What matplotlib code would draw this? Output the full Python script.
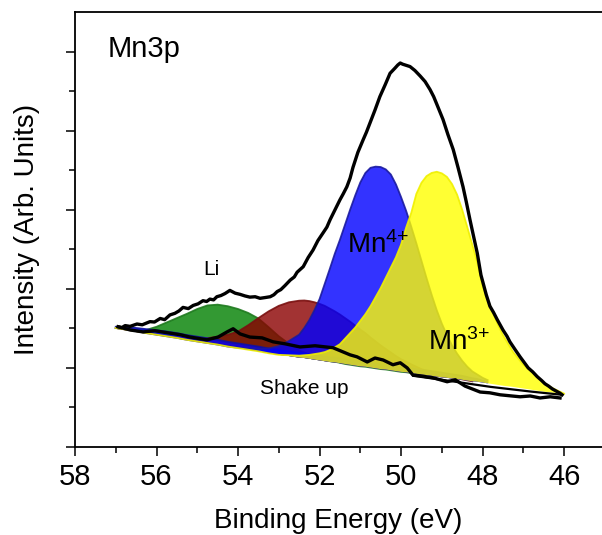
import numpy as np
import matplotlib
matplotlib.use("Agg")
import matplotlib.pyplot as plt

plt.rcParams["font.family"] = ["Liberation Sans", "DejaVu Sans"]
plt.rcParams["mathtext.default"] = "regular"

# ---- data (binding energy in eV, intensity in arb. units) ----
# energy grid for the fitted components (finer around the main peaks)
grid_E = [57.0, 56.75, 56.5, 56.25, 56.0, 55.75, 55.5, 55.25, 55.0, 54.75,
          54.5, 54.25, 54.0, 53.75, 53.5, 53.25, 53.0, 52.75, 52.5,
          52.375, 52.25, 52.125, 52.0, 51.875, 51.75, 51.625, 51.5, 51.375, 51.25,
          51.125, 51.0, 50.875, 50.75, 50.625, 50.5, 50.375, 50.25, 50.125, 50.0,
          49.875, 49.75, 49.625, 49.5, 49.375, 49.25, 49.125, 49.0, 48.875, 48.75,
          48.625, 48.5, 48.375, 48.25, 48.125, 48.0, 47.875, 47.75, 47.625, 47.5,
          47.25, 47.0, 46.75, 46.5, 46.25, 46.0]

background = [3.01, 2.97, 2.93, 2.88, 2.84, 2.80, 2.76, 2.71, 2.67, 2.63,
              2.59, 2.54, 2.50, 2.46, 2.42, 2.37, 2.33, 2.30, 2.26,
              2.25, 2.23, 2.21, 2.19, 2.17, 2.15, 2.14, 2.12, 2.10, 2.08,
              2.06, 2.04, 2.03, 2.01, 1.99, 1.97, 1.96, 1.94, 1.92, 1.90,
              1.89, 1.87, 1.85, 1.83, 1.82, 1.80, 1.78, 1.76, 1.75, 1.73,
              1.72, 1.70, 1.68, 1.66, 1.65, 1.63, 1.61, 1.59, 1.57, 1.55,
              1.52, 1.48, 1.44, 1.40, 1.37, 1.33]

# component heights above the background
li_h = [0.0, 0.01, 0.03, 0.08, 0.2, 0.35, 0.5, 0.66, 0.82, 0.95,
        1.01, 1.02, 0.99, 0.93, 0.83, 0.66, 0.47, 0.31, 0.18,
        0.14, 0.1, 0.07, 0.05, 0.03, 0.02, 0.015, 0.01] + [0.0] * 38

red_h = [0.0, 0.0, 0.0, 0.01, 0.01, 0.01, 0.02, 0.04, 0.07, 0.12,
         0.2, 0.3, 0.42, 0.62, 0.84, 1.06, 1.24, 1.36, 1.44,
         1.455, 1.46, 1.45, 1.43, 1.40, 1.35, 1.29, 1.23, 1.16, 1.09,
         1.01, 0.93, 0.85, 0.76, 0.68, 0.6, 0.52, 0.45, 0.38, 0.32,
         0.27, 0.22, 0.18, 0.14, 0.11, 0.08, 0.065, 0.05, 0.04, 0.03,
         0.02, 0.01, 0.005, 0.0] + [0.0] * 12

shake_h = ([0.03, 0.06, 0.08, 0.1, 0.11] + [0.12] * 42
           + [0.11, 0.11, 0.1, 0.1, 0.09, 0.08, 0.07, 0.05, 0.03] + [0.0] * 9)

mn4_h = [0.0] * 12 + [0.01, 0.03, 0.06, 0.12, 0.22, 0.38, 0.58,
         0.76, 0.98, 1.25, 1.55, 1.95, 2.35, 2.75, 3.12, 3.52, 3.92,
         4.3, 4.65, 4.9, 5.05, 5.10, 5.11, 5.06, 4.95, 4.72, 4.42,
         4.08, 3.7, 3.3, 2.88, 2.45, 2.05, 1.68, 1.36, 1.08, 0.84,
         0.64, 0.48, 0.35, 0.25, 0.18, 0.12, 0.08, 0.05, 0.03, 0.02,
         0.01, 0.0, 0.0, 0.0, 0.0, 0.0]

mn3_h = [0.0] * 17 + [0.02, 0.05,
         0.07, 0.1, 0.14, 0.18, 0.23, 0.3, 0.38, 0.48, 0.64, 0.8,
         0.96, 1.15, 1.33, 1.55, 1.8, 2.05, 2.32, 2.6, 2.88, 3.22,
         3.66, 4.05, 4.55, 4.85, 5.03, 5.13, 5.18, 5.16, 5.08, 4.92,
         4.66, 4.3, 3.88, 3.45, 3.0, 2.45, 2.12, 1.82, 1.53, 1.28,
         0.88, 0.6, 0.42, 0.22, 0.1, 0.02]

# measured spectrum (upper noisy trace)
env_E = [56.94, 56.85, 56.77, 56.65, 56.48, 56.35, 56.16, 56.05, 55.91, 55.80,
         55.67, 55.55, 55.45, 55.35, 55.22, 55.10, 54.98, 54.86, 54.77, 54.69,
         54.60, 54.52, 54.42, 54.32, 54.20, 54.07, 53.95, 53.83, 53.71, 53.58,
         53.46, 53.33, 53.21, 53.12, 53.04, 52.95, 52.85, 52.72, 52.62, 52.55,
         52.40, 52.28, 52.16, 52.04, 51.91, 51.82, 51.74, 51.62, 51.50, 51.42,
         51.33, 51.25, 51.18, 51.06, 50.93, 50.85, 50.76, 50.64, 50.52, 50.39,
         50.27, 50.15, 50.08, 50.02, 49.96, 49.90, 49.84, 49.78, 49.66, 49.53,
         49.41, 49.29, 49.20, 49.12, 48.97, 48.85, 48.72, 48.60, 48.48, 48.40,
         48.31, 48.23, 48.13, 48.04, 47.91, 47.82, 47.73, 47.64, 47.50, 47.40,
         47.33, 47.20, 47.08, 46.98, 46.88, 46.77, 46.66, 46.55, 46.47, 46.38,
         46.29, 46.17, 46.10, 46.05]
env_y = [3.04, 3.02, 3.07, 3.05, 3.11, 3.09, 3.17, 3.16, 3.25, 3.22,
         3.34, 3.38, 3.44, 3.53, 3.50, 3.58, 3.62, 3.70, 3.68, 3.74,
         3.72, 3.80, 3.83, 3.88, 3.96, 3.89, 3.86, 3.82, 3.79, 3.80,
         3.76, 3.78, 3.80, 3.85, 3.93, 3.98, 4.08, 4.22, 4.30, 4.42,
         4.56, 4.79, 4.98, 5.22, 5.42, 5.56, 5.75, 6.00, 6.25, 6.40,
         6.58, 6.80, 7.07, 7.45, 7.77, 7.96, 8.20, 8.52, 8.86, 9.16,
         9.45, 9.58, 9.66, 9.71, 9.68, 9.66, 9.64, 9.62, 9.52, 9.38,
         9.24, 9.04, 8.86, 8.66, 8.28, 7.90, 7.52, 7.06, 6.58, 6.20,
         5.75, 5.37, 4.90, 4.35, 3.85, 3.56, 3.40, 3.22, 2.96, 2.80,
         2.66, 2.46, 2.28, 2.14, 2.00, 1.90, 1.78, 1.68, 1.60, 1.54,
         1.47, 1.40, 1.36, 1.32]

# lower noisy trace
low_E = [56.94, 56.65, 56.33, 56.04, 55.74, 55.42, 55.18, 54.76, 54.49, 54.27,
         54.12, 53.95, 53.71, 53.41, 53.14, 52.85, 52.48, 52.11, 51.67, 51.25,
         51.08, 50.83, 50.64, 50.44, 50.20, 50.02, 49.85, 49.71, 49.53, 49.21,
         48.87, 48.67, 48.43, 48.06, 47.82, 47.57, 47.28, 47.08, 46.83, 46.59,
         46.34, 46.10]
low_y = [3.04, 2.96, 2.91, 2.94, 2.89, 2.84, 2.78, 2.71, 2.78, 2.91,
         2.99, 2.86, 2.78, 2.76, 2.66, 2.61, 2.53, 2.56, 2.51, 2.33,
         2.28, 2.15, 2.25, 2.20, 2.08, 2.13, 2.00, 1.82, 1.80, 1.75,
         1.65, 1.70, 1.54, 1.39, 1.37, 1.32, 1.29, 1.27, 1.29, 1.24,
         1.27, 1.24]

# smooth background line on the low-energy side
bgl_E = [49.7, 48.8, 47.8, 46.8, 46.05]
bgl_y = [1.80, 1.67, 1.52, 1.40, 1.32]

E = np.array(grid_E)
bg = np.array(background)

fig = plt.figure(figsize=(6.02, 5.35), dpi=100)
ax = fig.add_axes([75 / 602, 88 / 535, 527 / 602, 435 / 535])

# (heights, number of grid points used, fill, edge, zorder)
components = [
    (li_h, 41, "green", "#1f7a1f", 2.0),
    (red_h, 53, "darkred", "#7a1010", 2.1),
    (shake_h, 56, "blue", "#1010a0", 2.2),
    (mn4_h, 56, "blue", "#1a1aa0", 2.3),
    (mn3_h, 65, "yellow", "#f0f000", 2.4),
]
for h, n, fc, ec, z in components:
    top = bg[:n] + np.array(h)[:n]
    ax.fill_between(E[:n], bg[:n], top, facecolor=fc, alpha=0.8,
                    linewidth=0, zorder=z)
    ax.plot(E[:n], top, color=ec, lw=1.3, alpha=0.9, zorder=z + 0.05)

ax.plot(bgl_E, bgl_y, color="black", lw=1.6, zorder=3)
ax.plot(low_E, low_y, color="black", lw=2.4, zorder=3.1)
ax.plot(env_E, env_y, color="black", lw=2.4, zorder=3.2)

ax.text(57.21, 9.87, "Mn3p", fontsize=21)
ax.text(54.86, 4.35, "Li", fontsize=15)
ax.text(53.46, 1.34, "Shake up", fontsize=15)
ax.text(51.33, 4.91, r"Mn$^{4{+}}$", fontsize=20)
ax.text(49.34, 2.46, r"Mn$^{3{+}}$", fontsize=20)

ax.set_xlim(58, 45.07)
ax.set_ylim(0, 11)
ax.set_xticks([58, 56, 54, 52, 50, 48, 46])
ax.set_xticks([57, 55, 53, 51, 49, 47], minor=True)
ax.set_yticks([0, 2, 4, 6, 8, 10])
ax.set_yticks([1, 3, 5, 7, 9], minor=True)
ax.set_yticklabels([])
ax.tick_params(which="major", direction="out", length=6.5, width=1.1,
               labelsize=21, pad=5)
ax.tick_params(which="minor", direction="out", length=4, width=1.1)
ax.spines["right"].set_visible(False)
for s in ["left", "bottom", "top"]:
    ax.spines[s].set_linewidth(1.3)

ax.set_xlabel("Binding Energy (eV)", fontsize=20, labelpad=12)
ax.set_ylabel("Intensity (Arb. Units)", fontsize=20, labelpad=14)

fig.savefig("out.png", dpi=100)
